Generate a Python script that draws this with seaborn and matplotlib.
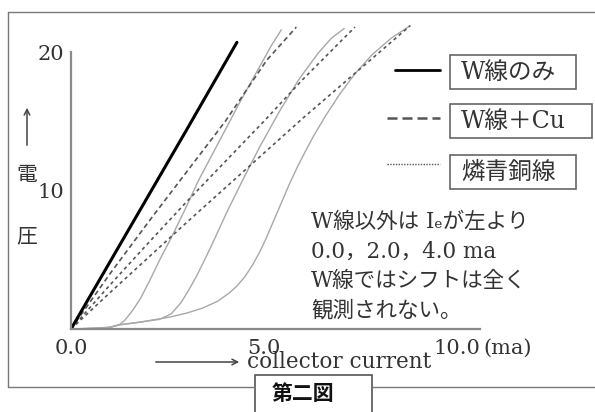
import matplotlib
matplotlib.use("Agg")
import matplotlib.pyplot as plt
import seaborn as sns
from matplotlib.lines import Line2D
from matplotlib.patches import Rectangle

# values (x: collector current in ma, y: voltage)
w_only_x = [0.0, 1.0, 2.0, 3.0, 4.3]
w_only_y = [0.0, 4.8, 9.6, 14.4, 20.7]

# W + Cu, Ic = 0.0 / 2.0 / 4.0 ma (dashed)
cu_0_x = [0.0, 1.0, 2.0, 2.82, 4.0, 5.07, 5.84]
cu_0_y = [0.0, 3.95, 7.7, 10.7, 15.0, 19.4, 21.8]
cu_2_x = [0.0, 1.0, 2.0, 3.0, 4.0, 5.0, 6.0, 7.0, 7.36]
cu_2_y = [0.0, 3.15, 6.2, 9.2, 12.1, 15.0, 18.0, 20.8, 21.8]
cu_4_x = [0.0, 1.0, 2.0, 3.0, 4.0, 5.0, 6.0, 7.0, 8.0, 8.79]
cu_4_y = [0.0, 2.6, 5.15, 7.7, 10.2, 12.7, 15.2, 17.6, 20.0, 21.9]

# phosphor bronze, Ic = 0.0 / 2.0 / 4.0 ma (thin grey)
pb_0_x = [0.0, 0.6, 1.0, 1.25, 1.4, 1.6, 1.8, 2.04, 2.3, 2.6, 2.95, 3.3, 3.85, 4.4, 4.94, 5.2, 5.45]
pb_0_y = [0.0, 0.05, 0.12, 0.3, 0.65, 1.35, 2.2, 3.5, 5.0, 6.6, 8.6, 10.7, 13.6, 16.5, 19.2, 20.5, 21.6]
pb_2_x = [0.0, 0.6, 1.0, 1.25, 1.8, 2.3, 2.6, 2.85, 3.05, 3.25, 3.5, 3.72, 4.05, 4.44, 4.9,
          5.4, 5.9, 6.4, 6.75, 7.08]
pb_2_y = [0.0, 0.05, 0.12, 0.3, 0.5, 0.7, 1.1, 1.9, 2.8, 3.8, 5.2, 6.5, 8.5, 10.7, 13.2,
          15.7, 18.0, 19.9, 21.0, 21.7]
pb_4_x = [0.0, 0.6, 1.0, 1.25, 1.8, 2.56, 3.0, 3.4, 3.8, 4.1, 4.3, 4.5, 4.7, 4.88, 5.05, 5.25,
          5.45, 5.65, 5.85, 6.05, 6.3, 6.6, 6.95, 7.35, 7.8, 8.3, 8.79]
pb_4_y = [0.0, 0.05, 0.12, 0.3, 0.5, 0.86, 1.15, 1.5, 2.0, 2.6, 3.1, 3.75, 4.6, 5.5, 6.5, 7.8,
          9.1, 10.4, 11.6, 12.7, 14.0, 15.4, 16.9, 18.4, 19.8, 21.0, 21.9]

x_ticks = [0, 5, 10]
x_tick_labels = ["0.0", "5.0", "10.0"]
y_ticks = [10, 20]
y_tick_labels = ["10", "20"]

legend_labels = ["W線のみ", "W線＋Cu", "燐青銅線"]
note_lines = ["W線以外は Iₑが左より", "0.0，2.0，4.0 ma", "W線ではシフトは全く", "観測されない。"]

W, H = 595, 412

sns.set_style("white")
plt.rcParams["font.family"] = ["DejaVu Serif", "Noto Sans CJK JP"]


def fx(px):
    return px / W


def fy(py):
    return 1 - py / H


fig = plt.figure(figsize=(W / 100, H / 100), dpi=100)
ax = fig.add_axes([fx(71), fy(329), 409 / W, (329 - 17.4) / H])

grey = "#a8a8a8"
for xs, ys in [(pb_0_x, pb_0_y), (pb_2_x, pb_2_y), (pb_4_x, pb_4_y)]:
    sns.lineplot(x=xs, y=ys, ax=ax, color=grey, lw=1.0, estimator=None)

sns.lineplot(x=cu_0_x, y=cu_0_y, ax=ax, color="#555555", lw=1.2,
             linestyle=(0, (3, 2)), estimator=None)
for xs, ys in [(cu_2_x, cu_2_y), (cu_4_x, cu_4_y)]:
    sns.lineplot(x=xs, y=ys, ax=ax, color="#555555", lw=1.2,
                 linestyle=(0, (2, 2)), estimator=None)

sns.lineplot(x=w_only_x, y=w_only_y, ax=ax, color="black", lw=2.2, estimator=None)

ax.set_xlim(0, 10.6)
ax.set_ylim(0, 22.5)
ax.set_xticks(x_ticks, x_tick_labels)
ax.set_yticks(y_ticks, y_tick_labels)
ax.tick_params(axis="both", direction="in", colors="#333333", labelsize=15)
ax.tick_params(axis="x", length=6, width=1, pad=7, color="#888888")
ax.tick_params(axis="y", length=7, width=1.4, pad=5, color="#888888")
ax.set_xlabel("")
ax.set_ylabel("")
for side in ["top", "right"]:
    ax.spines[side].set_visible(False)
for side in ["left", "bottom"]:
    ax.spines[side].set_color("#8a8a8a")
    ax.spines[side].set_linewidth(1.6)
ax.spines["left"].set_bounds(0, 20)
ax.spines["bottom"].set_bounds(0, 10.6)
ax.patch.set_alpha(0)

# outer frame
frame = dict(transform=fig.transFigure, color="#777777", lw=1.0)
fig.add_artist(Line2D([fx(8), fx(8)], [fy(12), fy(387)], **frame))
fig.add_artist(Line2D([fx(8), fx(595)], [fy(12), fy(12)], **frame))
fig.add_artist(Line2D([fx(8), fx(255)], [fy(387), fy(387)], **frame))
fig.add_artist(Line2D([fx(372), fx(595)], [fy(387), fy(387)], **frame))

# caption box
fig.add_artist(Rectangle((fx(255), fy(414)), 117 / W, 39 / H, transform=fig.transFigure,
                         fill=False, ec="#555555", lw=1.2))
fig.text(fx(303), fy(393), "第二図", ha="center", va="center", fontsize=15,
         fontweight="bold", family=["Noto Sans CJK JP"], color="#111111")

# axis labels
ax.annotate("", xy=(fx(27), fy(105)), xytext=(fx(27), fy(148)), xycoords="figure fraction",
            textcoords="figure fraction", arrowprops=dict(arrowstyle="->", color="#444444", lw=1.1))
fig.text(fx(27), fy(176), "電", ha="center", va="center", fontsize=15, color="#333333")
fig.text(fx(27), fy(237), "圧", ha="center", va="center", fontsize=15, color="#333333")
ax.annotate("", xy=(fx(242), fy(362)), xytext=(fx(153), fy(362)), xycoords="figure fraction",
            textcoords="figure fraction", arrowprops=dict(arrowstyle="->", color="#444444", lw=1.1))
fig.text(fx(247), fy(362), "collector current", ha="left", va="center", fontsize=15.5,
         color="#333333")
fig.text(fx(483), fy(348), "(ma)", ha="left", va="center", fontsize=15, color="#333333")

# legend keys and boxes
key_styles = [dict(color="black", lw=2.0, linestyle="-"),
              dict(color="#555555", lw=1.8, linestyle=(0, (4, 2))),
              dict(color="#555555", lw=1.0, linestyle=(0, (1, 1)))]
key_x = [(395, 440), (387, 440), (387, 440)]
key_y = [70, 118, 164]
box_w = [126, 142, 126]
box_top = [55, 104, 155]
for label, style, (x0, x1), ky, bw, bt in zip(legend_labels, key_styles, key_x, key_y, box_w, box_top):
    fig.add_artist(Line2D([fx(x0), fx(x1)], [fy(ky), fy(ky)], transform=fig.transFigure, **style))
    fig.add_artist(Rectangle((fx(450), fy(bt + 34)), bw / W, 34 / H, transform=fig.transFigure,
                             fill=False, ec="#666666", lw=1.2))
    fig.text(fx(461), fy(bt + 17), label, ha="left", va="center", fontsize=17, color="#333333")

# note
for i, line in enumerate(note_lines):
    fig.text(fx(311), fy(222 + i * 29.5), line, ha="left", va="center", fontsize=15.5,
             color="#333333", family=["DejaVu Serif", "DejaVu Sans", "Noto Sans CJK JP"])

fig.savefig("out.png", dpi=100)
